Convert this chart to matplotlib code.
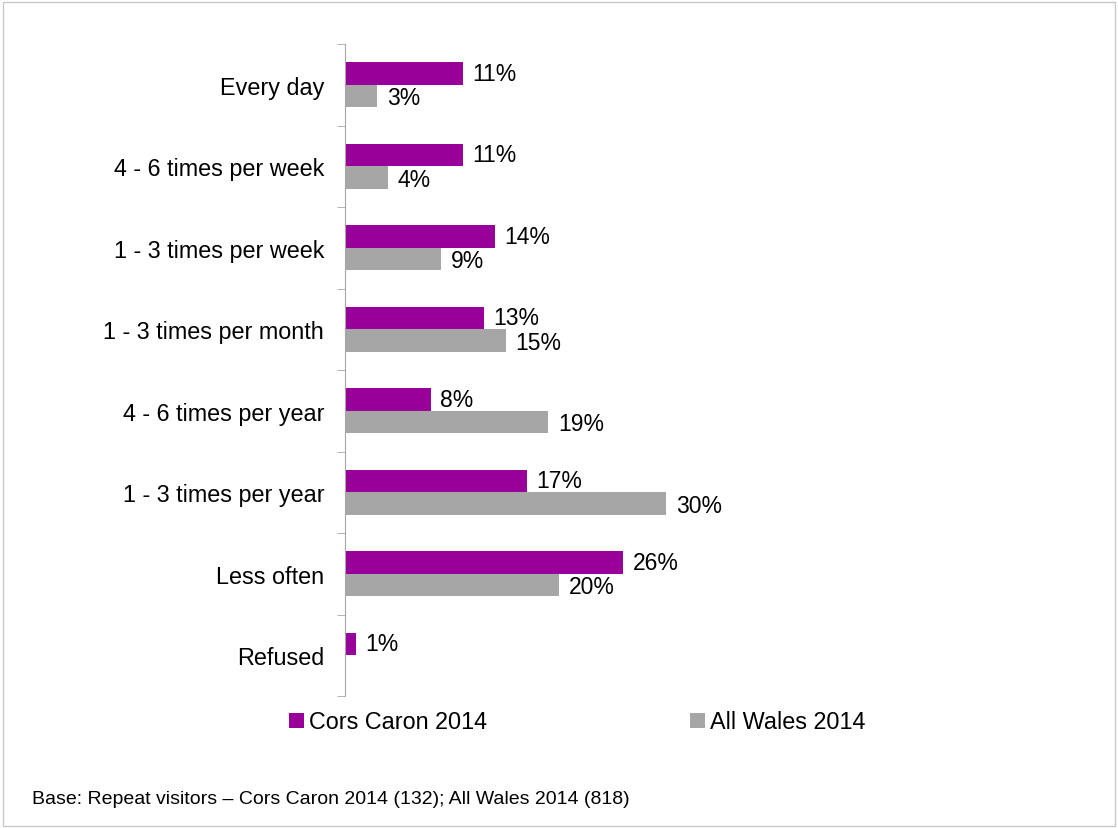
import numpy as np
import matplotlib.pyplot as plt
from matplotlib.patches import Rectangle

plt.rcParams['font.family'] = ['Liberation Sans', 'DejaVu Sans']

categories = ['Every day', '4 - 6 times per week', '1 - 3 times per week',
              '1 - 3 times per month', '4 - 6 times per year',
              '1 - 3 times per year', 'Less often', 'Refused']
cors_caron = [11, 11, 14, 13, 8, 17, 26, 1]
all_wales = [3, 4, 9, 15, 19, 30, 20, None]
series_names = ['Cors Caron 2014', 'All Wales 2014']
footnote = 'Base: Repeat visitors \u2013 Cors Caron 2014 (132); All Wales 2014 (818)'

purple = '#990099'
grey = '#A6A6A6'

fig = plt.figure(figsize=(11.18, 8.29), dpi=100)
fig.patches.append(Rectangle((0.003, 0.003), 0.994, 0.993, transform=fig.transFigure,
                             fill=False, edgecolor='#C8C8C8', linewidth=1))

# axes: left spine at x=345px, top 45px, bottom 697px
ax = fig.add_axes([345 / 1118, 1 - 697 / 829, 642 / 1118, 652 / 829])

y = np.arange(len(categories))
h = 0.277
cc_vals = [v if v is not None else 0 for v in cors_caron]
aw_vals = [v if v is not None else 0 for v in all_wales]
b1 = ax.barh(y - h / 2, cc_vals, height=h, color=purple, label=series_names[0])
b2 = ax.barh(y + h / 2, aw_vals, height=h, color=grey, label=series_names[1])

for yi, v in zip(y, cors_caron):
    if v is not None:
        ax.text(v + 0.9, yi - h / 2, f'{v}%', va='center', ha='left', fontsize=16.5)
for yi, v in zip(y, all_wales):
    if v is not None:
        ax.text(v + 0.9, yi + h / 2 + 0.02, f'{v}%', va='center', ha='left', fontsize=16.5)

ax.set_ylim(len(categories) - 0.5, -0.5)
ax.set_xlim(0, 60)
ax.set_yticks(y)
ax.set_yticklabels(categories, fontsize=16.8)
ax.tick_params(axis='y', which='major', length=0, pad=15)
ax.set_yticks(np.arange(len(categories) + 1) - 0.5, minor=True)
ax.tick_params(axis='y', which='minor', length=6, color='#A6A6A6', direction='out')
ax.set_xticks([])
for s in ['top', 'right', 'bottom']:
    ax.spines[s].set_visible(False)
ax.spines['left'].set_color('#A6A6A6')

fig.legend(handles=[b1, b2], labels=series_names, loc='center left',
           bbox_to_anchor=(289 / 1118, 1 - 723 / 829), ncol=2, frameon=False,
           fontsize=16.8, handlelength=0.65, handleheight=0.65, handletextpad=0.2,
           columnspacing=8.7, borderpad=0, borderaxespad=0)

fig.text(32 / 1118, 1 - 800 / 829, footnote, fontsize=14, va='center', ha='left')

fig.savefig('out.png', dpi=100)
